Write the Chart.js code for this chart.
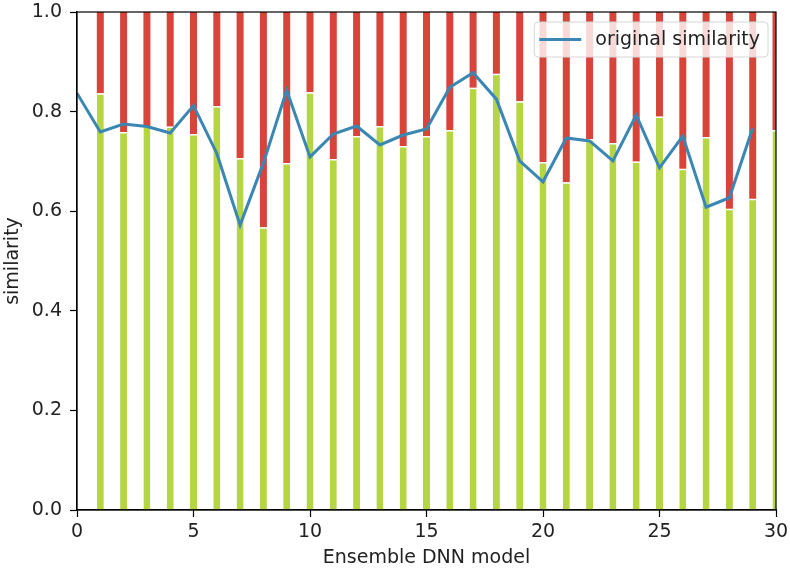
<!DOCTYPE html>
<html>
<head>
<meta charset="utf-8">
<script src="https://cdn.jsdelivr.net/npm/chart.js@4"></script>
<style>
html,body{margin:0;padding:0;background:#fff;}
#wrap{width:790px;height:571px;}
</style>
</head>
<body>
<div id="wrap"><canvas id="c" width="790" height="571"></canvas></div>
<script>
// Data
const models = [1,2,3,4,5,6,7,8,9,10,11,12,13,14,15,16,17,18,19,20,21,22,23,24,25,26,27,28,29,30];
const ensembleSimilarity = [0.837,0.759,0.771,0.770,0.755,0.811,0.707,0.568,0.697,0.839,
                            0.705,0.751,0.771,0.731,0.751,0.763,0.848,0.876,0.821,0.699,
                            0.658,0.745,0.737,0.700,0.790,0.685,0.749,0.605,0.625,0.763];
const lineX = [0,1,2,3,4,5,6,7,8,9,10,11,12,13,14,15,16,17,18,19,20,21,22,23,24,25,26,27,28,29];
const originalSimilarity = [0.837,0.759,0.775,0.770,0.757,0.812,0.716,0.572,0.697,0.843,
                            0.709,0.755,0.771,0.733,0.753,0.765,0.849,0.878,0.825,0.701,
                            0.659,0.747,0.741,0.701,0.793,0.687,0.751,0.608,0.627,0.767];
const xTicks = [0,5,10,15,20,25,30];
const yTicks = [0,0.2,0.4,0.6,0.8,1.0];

const GREEN = '#b5d543';
const RED = '#d7443a';
const BLUE = '#3a87b3';
const FONT = "'DejaVu Sans', sans-serif";
const FS = 19;

const greenData = models.map((m,i)=>({x:m, y:ensembleSimilarity[i]}));
const redData = models.map((m,i)=>({x:m, y:[ensembleSimilarity[i], 1]}));
const lineData = lineX.map((m,i)=>({x:m, y:originalSimilarity[i]}));

const framePlugin = {
  id:'frame',
  afterDatasetsDraw(chart){
    const {ctx, chartArea:a} = chart;
    ctx.save();
    ctx.strokeStyle = '#000';
    ctx.lineWidth = 1.2;
    ctx.strokeRect(a.left, a.top, a.right-a.left, a.bottom-a.top);
    ctx.restore();
  },
  afterDraw(chart){
    // matplotlib-style legend box in upper right
    const {ctx, chartArea:a} = chart;
    const ds = chart.data.datasets[2];
    ctx.save();
    ctx.font = FS + "px " + FONT;
    const tw = ctx.measureText(ds.label).width;
    const h = 35, padL = 5, lineLen = 42, gap = 14, padR = 8;
    const w = padL + lineLen + gap + tw + padR;
    const x = a.right - 8 - w, y = a.top + 10;
    const r = 4;
    ctx.beginPath();
    ctx.moveTo(x+r,y); ctx.lineTo(x+w-r,y); ctx.quadraticCurveTo(x+w,y,x+w,y+r);
    ctx.lineTo(x+w,y+h-r); ctx.quadraticCurveTo(x+w,y+h,x+w-r,y+h);
    ctx.lineTo(x+r,y+h); ctx.quadraticCurveTo(x,y+h,x,y+h-r);
    ctx.lineTo(x,y+r); ctx.quadraticCurveTo(x,y,x+r,y); ctx.closePath();
    ctx.fillStyle = 'rgba(255,255,255,0.8)';
    ctx.fill();
    ctx.strokeStyle = '#d6d6d6';
    ctx.lineWidth = 1;
    ctx.stroke();
    ctx.strokeStyle = ds.borderColor;
    ctx.lineWidth = 3;
    ctx.beginPath();
    ctx.moveTo(x+padL, y+h/2); ctx.lineTo(x+padL+lineLen, y+h/2); ctx.stroke();
    ctx.fillStyle = '#222';
    ctx.textBaseline = 'middle';
    ctx.fillText(ds.label, x+padL+lineLen+gap, y+h/2+1);
    ctx.restore();
  }
};

new Chart(document.getElementById('c'), {
  type:'bar',
  data:{
    datasets:[
      {label:'ensemble', data:greenData, backgroundColor:GREEN, borderColor:'#ffffff',
       borderWidth:{top:1.5,left:0,right:0,bottom:0}, borderSkipped:false,
       barPercentage:0.3, categoryPercentage:1, grouped:false, clip:0, order:2},
      {label:'gap', data:redData, backgroundColor:RED, borderWidth:0,
       barPercentage:0.3, categoryPercentage:1, grouped:false, clip:0, order:3},
      {type:'line', label:'original similarity', data:lineData, borderColor:BLUE,
       borderWidth:3, pointRadius:0, fill:false, tension:0, order:1, clip:0}
    ]
  },
  options:{
    responsive:false,
    animation:false,
    devicePixelRatio:1,
    layout:{padding:{top:12,right:14,left:0,bottom:0}},
    plugins:{legend:{display:false}, tooltip:{enabled:false}},
    scales:{
      x:{type:'linear', min:0, max:30, offset:false,
         afterBuildTicks(s){ s.ticks = xTicks.map(v=>({value:v})); },
         afterFit(s){ s.height = 61; s.paddingLeft = 0; s.paddingRight = 0; },
         grid:{display:true, offset:false, drawOnChartArea:false, drawTicks:true, tickLength:7, color:'#000', tickWidth:1.2},
         border:{display:true, color:'#000', width:1.2},
         ticks:{color:'#222', font:{family:FONT, size:FS}, padding:4, maxRotation:0,
                callback:v=>String(v)},
         title:{display:true, text:'Ensemble DNN model', color:'#222', font:{family:FONT, size:FS}, padding:{top:0,bottom:2}}
      },
      y:{min:0, max:1,
         afterBuildTicks(s){ s.ticks = yTicks.map(v=>({value:v})); },
         afterFit(s){ s.width = 77; s.paddingTop = 0; s.paddingBottom = 0; },
         grid:{display:true, offset:false, drawOnChartArea:false, drawTicks:true, tickLength:7, color:'#000', tickWidth:1.2},
         border:{display:true, color:'#000', width:1.2},
         ticks:{color:'#222', font:{family:FONT, size:FS}, padding:8, callback:v=>v.toFixed(1)},
         title:{display:true, text:'similarity', color:'#222', font:{family:FONT, size:FS}, padding:{top:2,bottom:0}}
      }
    }
  },
  plugins:[framePlugin]
});
</script>
</body>
</html>
